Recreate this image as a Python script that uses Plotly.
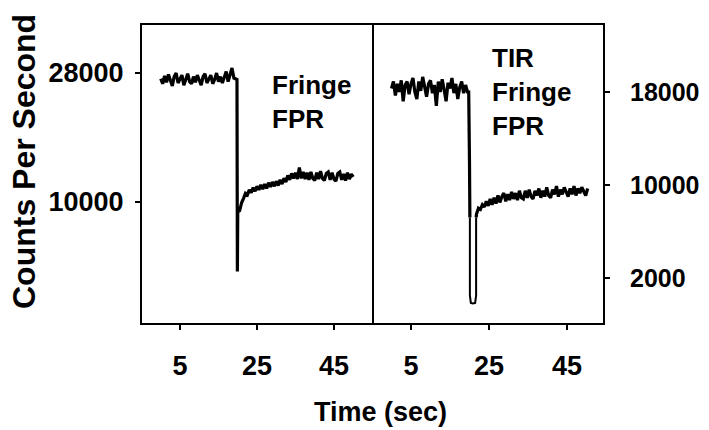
import plotly.graph_objects as go

# ---- sampling ----
DT = 0.5  # seconds between samples

# ---- left panel: Fringe FPR (counts per second) ----
left_pre_start = 0.0
left_pre = [27200, 26500, 27600, 26700, 27800, 26900, 26200, 27500, 28000, 26600,
            27300, 27700, 26300, 27100, 27900, 26800, 26500, 27500, 26700, 27700,
            26900, 26300, 27500, 27900, 26600, 27300, 27700, 26500, 27100, 28000,
            26800, 27500, 26600, 27400, 28200, 26800, 27800, 28700, 27300, 27100]
left_drop_t = [19.8, 19.9, 20.0]
left_drop = [27100, 300, 8600]
left_post_start = 20.5
left_post = [8800, 9900, 10500, 11200, 11000, 11700, 11300, 12000, 11500, 12200,
             11700, 12400, 11800, 12500, 11900, 12700, 12100, 12800, 12200, 12900,
             12300, 13100, 12500, 13300, 12800, 13700, 13100, 14000, 13300, 14100,
             13200, 14800, 13300, 14200, 13200, 14100, 13100, 14200, 13300, 13000,
             14100, 13200, 14300, 13300, 13000, 14000, 14200, 13100, 14100, 13200,
             12900, 14000, 14200, 13100, 13900, 13000, 14100, 13200, 13900, 13500]

# ---- right panel: TIR Fringe FPR (counts per second) ----
right_pre_start = 0.0
right_pre = [18300, 18900, 17700, 18700, 18000, 19000, 17200, 18600, 18900, 17800,
             18700, 19200, 18000, 17400, 18900, 18100, 19300, 18300, 17600, 18700,
             19000, 17900, 18600, 16800, 18900, 18000, 19100, 18200, 17200, 18800,
             18300, 19200, 17900, 18700, 17400, 18400, 18900, 17900, 18600, 18000]
# transient dip: the first three points fall from the baseline, the rest trace the dip itself
right_drop_t = [19.8, 20.0, 20.1, 20.1, 20.35, 20.9, 21.45, 21.7, 21.7]
right_drop = [18000, 12000, 7200, 500, -150, -200, -150, 500, 7200]
right_post_start = 21.8
right_post = [7500, 8000, 7900, 8300, 8100, 8600, 8200, 8800, 8300, 8900,
              8400, 9100, 8500, 9000, 9300, 8600, 9200, 8700, 9400, 8800,
              9300, 8700, 9500, 8900, 8800, 9500, 8900, 9600, 9000, 8800,
              9500, 9100, 9700, 8900, 9500, 9000, 9800, 9100, 8900, 9600,
              9200, 9900, 9000, 9600, 9200, 9800, 9300, 9000, 9700, 9200,
              9900, 9100, 9700, 9300, 9800, 9400, 9100, 9700]

x_ticks = [5, 25, 45]
left_y_ticks = [10000, 28000]
right_y_ticks = [2000, 10000, 18000]


def pre_times(start, vals):
    return [start + i * DT for i in range(len(vals))]


FONT = "Liberation Sans, Arial, sans-serif"
THICK = 3.2
THIN = 2.0

fig = go.Figure()


def add_line(t, v, width, xa, ya):
    fig.add_trace(go.Scatter(x=t, y=v, mode="lines",
                             line=dict(color="black", width=width),
                             xaxis=xa, yaxis=ya, showlegend=False))


# left panel trace
lt = pre_times(left_pre_start, left_pre) + left_drop_t + pre_times(left_post_start, left_post)
lv = left_pre + left_drop + left_post
add_line(lt, lv, THICK, "x", "y")

# right panel: baseline and fall, the narrow dip, then recovery
rpre_t = pre_times(right_pre_start, right_pre)
add_line(rpre_t + right_drop_t[:3], right_pre + right_drop[:3], THICK, "x2", "y2")
add_line(right_drop_t[2:], right_drop[2:], THIN, "x2", "y2")
add_line(right_drop_t[-1:] + pre_times(right_post_start, right_post),
         right_drop[-1:] + right_post, THICK, "x2", "y2")

W, H = 709, 430
L, R, T, B = 141, 604, 24, 324
split = (373 - L) / (R - L)


def axis_style(size):
    return dict(showline=False, ticks="outside", ticklen=5, tickwidth=1.8,
                tickcolor="black", showgrid=False, zeroline=False,
                tickformat="d", automargin=False,
                tickfont=dict(family=FONT, size=size, color="black", weight="bold"))


fig.update_layout(
    width=W, height=H,
    margin=dict(l=L, r=W - R, t=T, b=H - B, pad=0, autoexpand=False),
    paper_bgcolor="white", plot_bgcolor="white",
    xaxis=dict(domain=[0, split], range=[-5.13, 55.13], tickvals=x_ticks,
               ticklabelstandoff=13, anchor="y", **axis_style(27)),
    xaxis2=dict(domain=[split, 1], range=[-4.74, 54.49], tickvals=x_ticks,
                ticklabelstandoff=13, anchor="y2", **axis_style(27)),
    yaxis=dict(domain=[0, 1], range=[-7020, 34840], tickvals=left_y_ticks,
               ticklabelstandoff=6, anchor="x", side="left", **axis_style(27)),
    yaxis2=dict(domain=[0, 1], range=[-1960, 23850], tickvals=right_y_ticks,
                ticklabelstandoff=15, anchor="x2", side="right", **axis_style(25)),
)

# panel frame and divider
fig.add_shape(type="rect", xref="paper", yref="paper", x0=0, x1=1, y0=0, y1=1,
              line=dict(color="black", width=2), layer="above")
fig.add_shape(type="line", xref="paper", yref="paper", x0=split, x1=split, y0=0, y1=1,
              line=dict(color="black", width=2), layer="above")

bold = dict(family=FONT, color="black", weight="bold")

fig.add_annotation(text="Counts Per Second", textangle=-90,
                   xref="paper", yref="paper",
                   x=(24 - L) / (R - L), y=(B - 162) / (B - T),
                   xanchor="center", yanchor="middle", showarrow=False,
                   font=dict(size=32, **bold))
fig.add_annotation(text="Time (sec)", xref="paper", yref="paper",
                   x=(380 - L) / (R - L), y=(B - 412) / (B - T),
                   xanchor="center", yanchor="middle", showarrow=False,
                   font=dict(size=27, **bold))
fig.add_annotation(text="Fringe<br>FPR", xref="x", yref="y",
                   x=28.5, y=24000, xanchor="left", yanchor="middle", align="left",
                   showarrow=False, font=dict(size=26, **bold))
fig.add_annotation(text="TIR<br>Fringe<br>FPR", xref="x2", yref="y2",
                   x=25.3, y=18000, xanchor="left", yanchor="middle", align="left",
                   showarrow=False, font=dict(size=26, **bold))

fig.write_html("out.html")
